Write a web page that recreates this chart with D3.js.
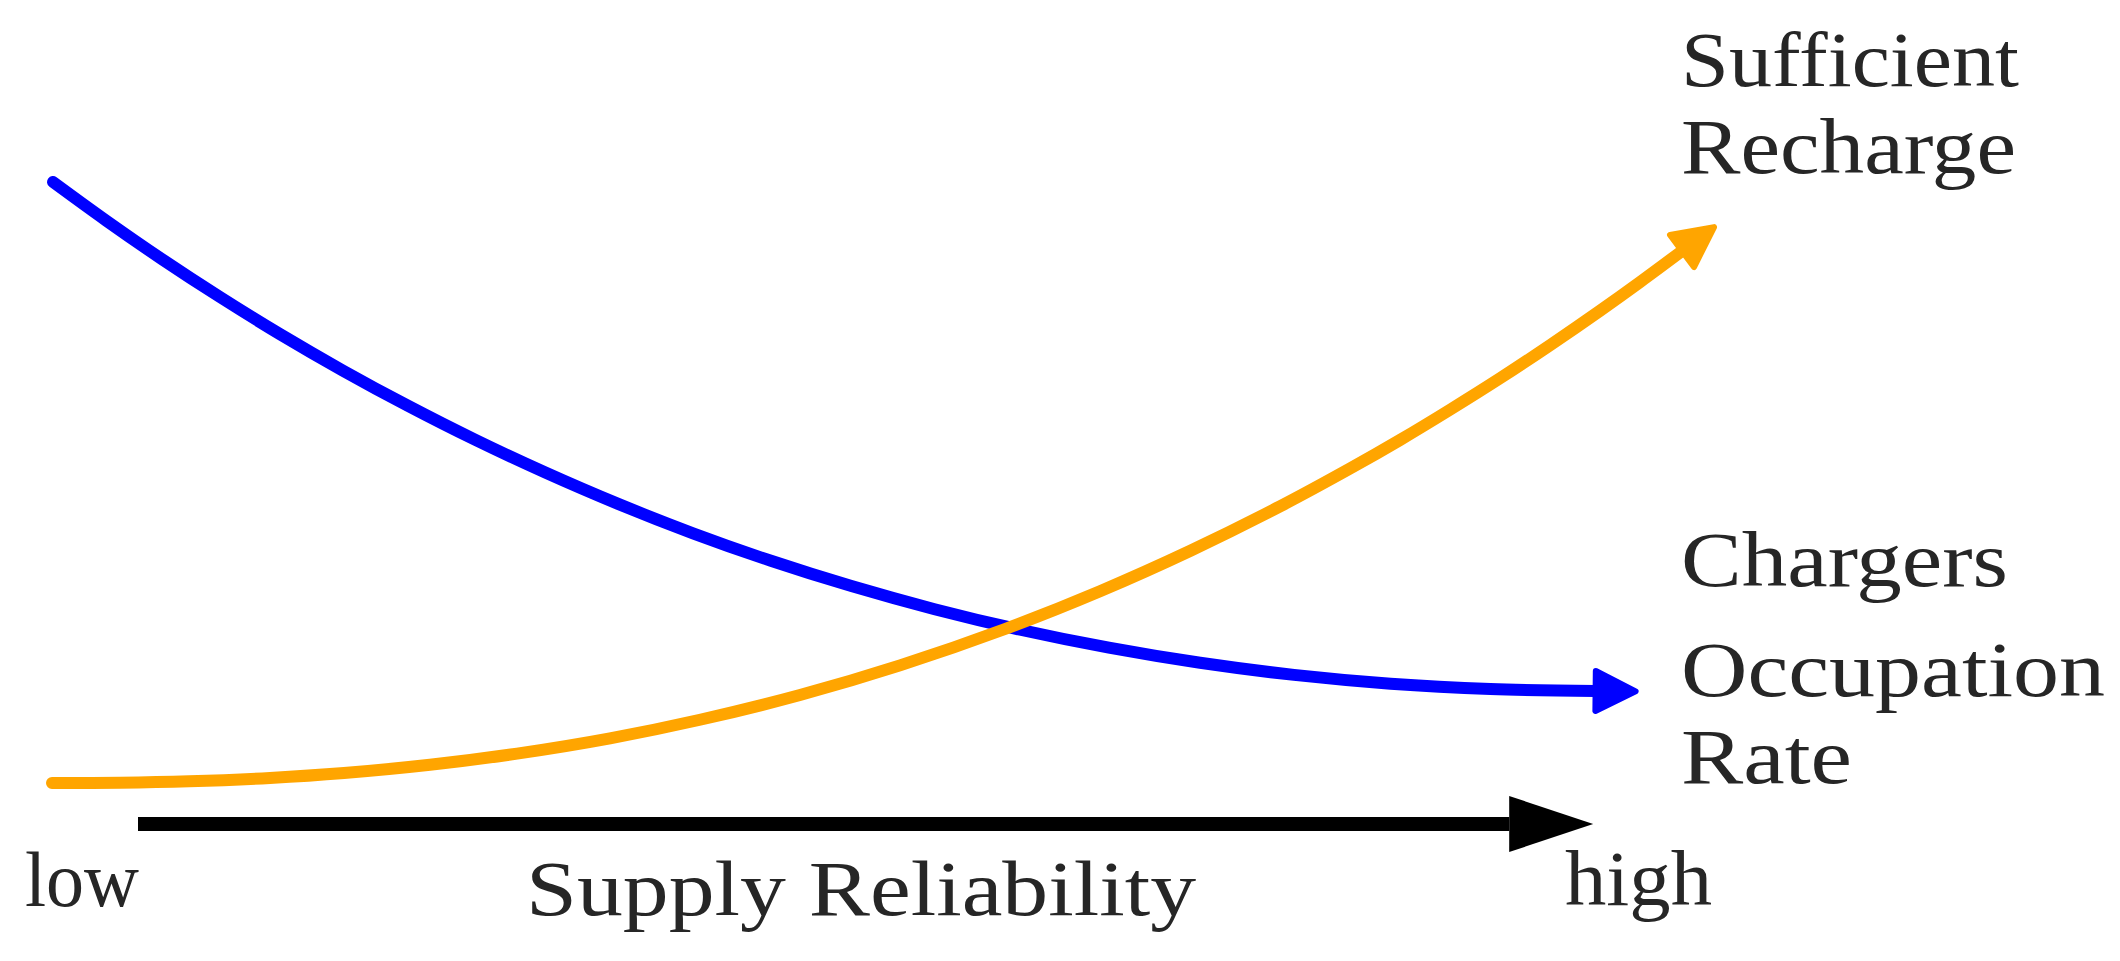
<!DOCTYPE html>
<html>
<head>
<meta charset="utf-8">
<script src="https://cdn.jsdelivr.net/npm/d3@7"></script>
<style>
  html, body { margin: 0; padding: 0; background: #ffffff; }
  svg { display: block; }
</style>
</head>
<body>
<svg id="chart" width="2120" height="961"></svg>
<script>
// ---- data (abstract units: x 0..100 = low..high supply reliability) ----
const occupationX = [0.19, 3.51, 6.98, 10.6, 14.36, 18.29, 22.36, 26.59, 30.96, 35.51, 40.19, 45.06, 50.09, 55.29, 60.64, 66.18, 71.88, 77.75, 83.79, 90.03, 96.6];
const occupationY = [80.25, 75.43, 70.63, 65.9, 61.25, 56.7, 52.29, 48.01, 43.93, 40.01, 36.34, 32.9, 29.74, 26.85, 24.28, 22.04, 20.15, 18.64, 17.54, 16.88, 16.63];

const rechargeX = [0.125, 4.375, 8.69, 13.75, 18.375, 23.75, 29.19, 35, 40.625, 46.875, 53.125, 59.69, 65.625, 71.31, 76.875, 81.25, 84.375, 87.5, 90.625, 93.75, 96.875, 99.375, 102];
const rechargeY = [5.125, 5.16, 5.34, 5.76, 6.375, 7.4, 8.8, 10.71, 13.03, 16.125, 19.83, 24.375, 29.1, 34.19, 39.7, 44.43, 48, 51.78, 55.71, 59.85, 64.16, 67.74, 71.625];

const axisX = [5.5, 91.2];   // supply reliability arrow shaft (start, head base)
const axisY = [0, 0];

const rechargeLabel = ["Sufficient", "Recharge"];
const rechargeWidth = [338, 335];
const occupationLabel = ["Chargers", "Occupation", "Rate"];
const occupationWidth = [327, 424, 171];
const axisLabels = ["low", "Supply Reliability", "high"];
const axisWidth = [114, 670, 147];

// ---- scales ----
const x = d3.scaleLinear().domain([0, 100]).range([50, 1650]);
const y = d3.scaleLinear().domain([0, 100]).range([824, 24]);

const svg = d3.select("#chart");
svg.append("rect").attr("width", 2120).attr("height", 961).attr("fill", "#ffffff");

const defs = svg.append("defs");
function curveHead(id, color) {
  const m = defs.append("marker")
    .attr("id", id)
    .attr("markerUnits", "userSpaceOnUse")
    .attr("viewBox", "-10 -30 60 60")
    .attr("markerWidth", 60).attr("markerHeight", 60)
    .attr("refX", 0).attr("refY", 0)
    .attr("orient", "auto")
    .style("overflow", "visible");
  m.append("path")
    .attr("d", "M0,-20 L40,0 L0,20 Z")
    .attr("fill", color).attr("stroke", color)
    .attr("stroke-width", 6).attr("stroke-linejoin", "round");
}
curveHead("head-blue", "#0000ff");
curveHead("head-orange", "#ffa500");

const axisHead = defs.append("marker")
  .attr("id", "head-black")
  .attr("markerUnits", "userSpaceOnUse")
  .attr("viewBox", "0 -30 90 60")
  .attr("markerWidth", 90).attr("markerHeight", 60)
  .attr("refX", 0).attr("refY", 0)
  .attr("orient", "auto")
  .style("overflow", "visible");
axisHead.append("path").attr("d", "M0,-28 L84,0 L0,28 Z").attr("fill", "#000000");

const line = d3.line()
  .x(d => x(d[0]))
  .y(d => y(d[1]))
  .curve(d3.curveCatmullRom.alpha(0.5));

const occData = d3.zip(occupationX, occupationY);
const recData = d3.zip(rechargeX, rechargeY);

svg.append("path")
  .attr("d", line(occData))
  .attr("fill", "none")
  .attr("stroke", "#0000ff")
  .attr("stroke-width", 12)
  .attr("stroke-linecap", "round")
  .attr("marker-end", "url(#head-blue)");

svg.append("path")
  .attr("d", line(recData))
  .attr("fill", "none")
  .attr("stroke", "#ffa500")
  .attr("stroke-width", 12)
  .attr("stroke-linecap", "round")
  .attr("marker-end", "url(#head-orange)");

svg.append("path")
  .attr("d", d3.line().x(d => x(d[0])).y(d => y(d[1])).curve(d3.curveLinear)(d3.zip(axisX, axisY)))
  .attr("fill", "none")
  .attr("stroke", "#000000")
  .attr("stroke-width", 14)
  .attr("stroke-linecap", "butt")
  .attr("marker-end", "url(#head-black)");

// ---- text ----
const font = "'Liberation Serif', 'Times New Roman', serif";
const txt = svg.append("g")
  .attr("font-family", font)
  .attr("fill", "#262626")
  .attr("font-size", 78);

txt.selectAll("text.rech").data(rechargeLabel).join("text")
  .attr("class", "rech")
  .attr("x", 1681)
  .attr("y", (d, i) => 86 + i * 87)
  .attr("textLength", (d, i) => rechargeWidth[i])
  .attr("lengthAdjust", "spacingAndGlyphs")
  .text(d => d);

const occBase = [586, 696, 783];
txt.selectAll("text.occ").data(occupationLabel).join("text")
  .attr("class", "occ")
  .attr("x", 1681)
  .attr("y", (d, i) => occBase[i])
  .attr("textLength", (d, i) => occupationWidth[i])
  .attr("lengthAdjust", "spacingAndGlyphs")
  .text(d => d);

const axPos = [[25, 906], [526, 915], [1565, 905]];
txt.selectAll("text.ax").data(axisLabels).join("text")
  .attr("class", "ax")
  .attr("x", (d, i) => axPos[i][0])
  .attr("y", (d, i) => axPos[i][1])
  .attr("textLength", (d, i) => axisWidth[i])
  .attr("lengthAdjust", "spacingAndGlyphs")
  .text(d => d);
</script>
</body>
</html>
